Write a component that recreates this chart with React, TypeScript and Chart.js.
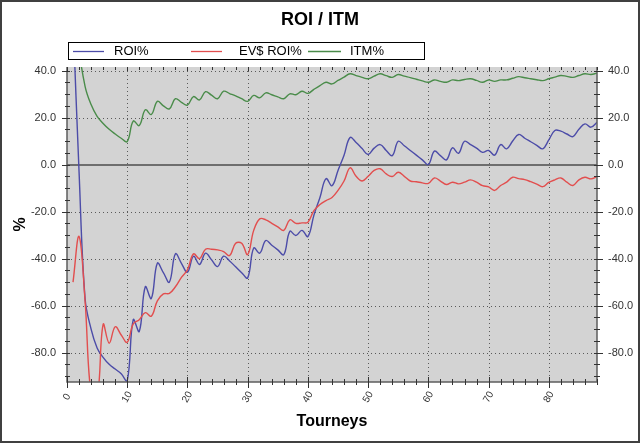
import React, { useEffect, useRef } from 'react';
import { Chart, registerables } from 'chart.js';

Chart.register(...registerables);

const FONT = '"Liberation Sans", Arial, sans-serif';

// Tourney numbers 1..88 (categories on the x axis)
const tourneys: number[] = [
  1, 2, 3, 4, 5, 6, 7, 8, 9, 10, 11, 12, 13, 14, 15, 16, 17, 18, 19, 20,
  21, 22, 23, 24, 25, 26, 27, 28, 29, 30, 31, 32, 33, 34, 35, 36, 37, 38, 39, 40,
  41, 42, 43, 44, 45, 46, 47, 48, 49, 50, 51, 52, 53, 54, 55, 56, 57, 58, 59, 60,
  61, 62, 63, 64, 65, 66, 67, 68, 69, 70, 71, 72, 73, 74, 75, 76, 77, 78, 79, 80,
  81, 82, 83, 84, 85, 86, 87, 88,
];

const roi: number[] = [
  62, -3, -57, -70, -78, -82, -85, -87, -89, -92,
  -66, -71, -52, -57, -42, -46, -50, -38, -42, -45.8,
  -39, -42.5, -37.7, -40.5, -43.4, -39, -41, -43.5, -46, -48.2,
  -35.5, -37.7, -32.3, -34.3, -36.3, -38.3, -28.4, -30.2, -28, -30.6,
  -21.5, -14, -6, -9, -2.5, 4, 11.5, 9.4, 6.8, 4.3,
  7, 8.5, 6, 3.8, 9.9, 8, 6, 4, 2, 0,
  5.7, 3.8, 2, 7.1, 4.8, 9.9, 8.5, 7, 5.2, 6,
  4, 8.5, 6.7, 10, 12.8, 11.2, 9.7, 8.2, 6.7, 10.5,
  14.5, 14.2, 13, 11.9, 15, 17.3, 15.9, 18,
];

const evRoi: number[] = [
  -50, -30.6, -58, -98, -100, -68, -76, -69, -72.5, -75.6,
  -67.8, -66, -63, -64.5, -58, -55, -54.8, -52, -48, -44.8,
  -38, -40, -36, -36, -36.3, -37, -38.7, -33.5, -33.5, -38.3,
  -28, -23.1, -23.5, -25, -26.5, -28, -23.5, -25, -24.8, -24.5,
  -19.6, -17, -15.3, -14, -11, -7, -1.4, -5, -7, -5,
  -2.5, -1.8, -4, -5.1, -3.3, -5, -7, -7.3, -7.8, -8,
  -5.7, -7, -8.5, -7.5, -8.2, -7.5, -6.5, -7.5, -9, -9.5,
  -11, -8.9, -7.5, -5.4, -6, -6.4, -7.3, -8.3, -9.4, -7.6,
  -6.5, -5.7, -7.5, -8.9, -6.5, -5.4, -6.1, -5.1,
];

const itm: number[] = [
  100, 50, 33.3, 25.5, 20.5, 17.5, 15, 13, 11.2, 9.8,
  18.5, 16.6, 23.3, 21.3, 26.9, 25, 23.7, 28, 26.5, 25.3,
  28.9, 27.5, 31, 29.5, 28, 31.2, 30.2, 29.2, 28, 26.9,
  29.4, 28.4, 30.5, 29.7, 28.8, 28, 30.1, 29.7, 31.2, 30.3,
  32, 33.6, 35, 34.3, 35.8, 37.2, 38.6, 37.8, 37.1, 36.5,
  37.6, 38.6, 37.8, 37.1, 38.3, 37.6, 37, 36.3, 35.6, 35,
  36, 35.4, 35, 36, 35.7, 36.2, 36.5, 35.8, 35, 36,
  35.4, 36, 36, 36.7, 37.4, 36.9, 36.5, 36.1, 35.7, 36.5,
  37.2, 37.9, 37.5, 37.1, 37.9, 38.6, 38.3, 38.9,
];

const seriesNames: string[] = ['ROI%', 'EV$ ROI%', 'ITM%'];
const seriesColors: string[] = ['#4c4ca8', '#e24e4e', '#4a8c4a'];

const xMajorTicks: number[] = [0, 10, 20, 30, 40, 50, 60, 70, 80];
const yMajorTicks: number[] = [40, 20, 0, -20, -40, -60, -80];
const X_MIN = 0;
const X_MAX = 88;
const Y_MIN = -92.5;
const Y_MAX = 41.5;

const decorPlugin = {
  id: 'decor',
  beforeDraw(chart: any) {
    const { ctx, chartArea: a, scales } = chart;
    const x = scales.x;
    const y = scales.y;
    ctx.save();
    ctx.fillStyle = '#ffffff';
    ctx.fillRect(0, 0, chart.width, chart.height);
    ctx.fillStyle = '#d3d3d3';
    ctx.fillRect(a.left, a.top, a.right - a.left, a.bottom - a.top);
    // dotted grid
    ctx.strokeStyle = '#5a5a5a';
    ctx.lineWidth = 1;
    ctx.setLineDash([1, 3]);
    for (const v of xMajorTicks) {
      if (v <= X_MIN || v >= X_MAX) continue;
      const px = Math.round(x.getPixelForValue(v)) + 0.5;
      ctx.beginPath();
      ctx.moveTo(px, a.top);
      ctx.lineTo(px, a.bottom);
      ctx.stroke();
    }
    for (const v of yMajorTicks) {
      if (v === 0) continue;
      const py = Math.round(y.getPixelForValue(v)) + 0.5;
      ctx.beginPath();
      ctx.moveTo(a.left, py);
      ctx.lineTo(a.right, py);
      ctx.stroke();
    }
    ctx.setLineDash([]);
    // zero line
    const zy = Math.round(y.getPixelForValue(0));
    ctx.strokeStyle = '#6e6e6e';
    ctx.lineWidth = 2;
    ctx.beginPath();
    ctx.moveTo(a.left, zy);
    ctx.lineTo(a.right, zy);
    ctx.stroke();
    ctx.restore();
  },
  afterDraw(chart: any) {
    const { ctx, chartArea: a, scales } = chart;
    const x = scales.x;
    const y = scales.y;
    ctx.save();
    // axis lines
    ctx.strokeStyle = '#5e5e5e';
    ctx.lineWidth = 1.5;
    ctx.beginPath();
    ctx.moveTo(a.left, a.top);
    ctx.lineTo(a.left, a.bottom);
    ctx.lineTo(a.right, a.bottom);
    ctx.lineTo(a.right, a.top);
    ctx.stroke();
    // ticks
    ctx.strokeStyle = '#333333';
    ctx.lineWidth = 1;
    for (let v = X_MIN; v <= X_MAX; v += 2) {
      const px = Math.round(x.getPixelForValue(v)) + 0.5;
      const major = v % 10 === 0;
      ctx.beginPath();
      ctx.moveTo(px, a.bottom - (major ? 5 : 3));
      ctx.lineTo(px, a.bottom + (major ? 6 : 3));
      ctx.moveTo(px, a.top);
      ctx.lineTo(px, a.top + (major ? 4 : 3));
      ctx.stroke();
    }
    for (let v = 40; v >= -90; v -= 5) {
      const py = Math.round(y.getPixelForValue(v)) + 0.5;
      const major = v % 20 === 0;
      ctx.beginPath();
      ctx.moveTo(a.left - (major ? 5 : 2), py);
      ctx.lineTo(a.left + 3, py);
      ctx.moveTo(a.right - 3, py);
      ctx.lineTo(a.right + (major ? 6 : 3), py);
      ctx.stroke();
    }
    // x tick labels (from the scale's ticks)
    ctx.fillStyle = '#333333';
    ctx.font = `10px ${FONT}`;
    ctx.textAlign = 'center';
    ctx.textBaseline = 'middle';
    for (const t of x.ticks) {
      const px = x.getPixelForValue(t.value);
      ctx.save();
      ctx.translate(px, a.bottom + 15);
      ctx.rotate(-Math.PI / 3);
      ctx.fillText(String(t.value), 0, 0);
      ctx.restore();
    }
    // legend
    const lx = 68.5, ly = 42.5, lw = 356, lh = 17;
    ctx.fillStyle = '#ffffff';
    ctx.fillRect(lx, ly, lw, lh);
    ctx.strokeStyle = '#000000';
    ctx.lineWidth = 1;
    ctx.strokeRect(lx, ly, lw, lh);
    const items = [
      { x0: 73, x1: 104, tx: 114 },
      { x0: 191, x1: 222, tx: 239 },
      { x0: 308, x1: 341, tx: 350 },
    ];
    ctx.font = `13px ${FONT}`;
    ctx.textAlign = 'left';
    ctx.textBaseline = 'middle';
    items.forEach((it, i) => {
      ctx.strokeStyle = seriesColors[i];
      ctx.lineWidth = 1.3;
      ctx.beginPath();
      ctx.moveTo(it.x0, 51.5);
      ctx.lineTo(it.x1, 51.5);
      ctx.stroke();
      ctx.fillStyle = '#000000';
      ctx.fillText(seriesNames[i], it.tx, 51.5);
    });
    // outer frame
    ctx.strokeStyle = '#404040';
    ctx.lineWidth = 2;
    ctx.strokeRect(1, 1, chart.width - 2, chart.height - 2);
    ctx.restore();
  },
};

export default function App() {
  const ref = useRef<HTMLCanvasElement | null>(null);
  useEffect(() => {
    document.body.style.margin = '0';
    const canvas = ref.current;
    if (!canvas) return;
    const makeData = (vals: number[]) => vals.map((v, i) => ({ x: tourneys[i], y: v }));
    const yTickOpts = {
      stepSize: 20,
      includeBounds: false,
      padding: 11,
      color: '#333333',
      font: { size: 11, family: FONT },
      callback: (v: any) => Number(v).toFixed(1),
    };
    const chart = new Chart(canvas, {
      type: 'line',
      data: {
        datasets: [
          { label: seriesNames[1], data: makeData(evRoi), borderColor: seriesColors[1] },
          { label: seriesNames[2], data: makeData(itm), borderColor: seriesColors[2] },
          { label: seriesNames[0], data: makeData(roi), borderColor: seriesColors[0] },
        ].map((d) => ({
          ...d,
          borderWidth: 1.4,
          pointRadius: 0,
          tension: 0.4,
          capBezierPoints: false,
          fill: false,
        })) as any,
      },
      options: {
        animation: false,
        responsive: false,
        maintainAspectRatio: false,
        devicePixelRatio: 1,
        layout: { padding: 0 },
        plugins: {
          legend: { display: false },
          tooltip: { enabled: false },
          title: {
            display: true,
            text: 'ROI / ITM',
            color: '#000000',
            font: { size: 18, weight: 'bold', family: FONT },
            padding: { top: 9, bottom: 36.4 },
          },
        },
        scales: {
          x: {
            type: 'linear',
            min: X_MIN,
            max: X_MAX,
            ticks: { display: false, stepSize: 10, includeBounds: false },
            grid: { display: false, drawTicks: false },
            border: { display: false },
            title: {
              display: true,
              text: 'Tourneys',
              color: '#000000',
              font: { size: 16, weight: 'bold', family: FONT },
              padding: { top: 0, bottom: 12 },
            },
            afterFit: (s: any) => { s.height = 61; },
          },
          y: {
            position: 'left',
            min: Y_MIN,
            max: Y_MAX,
            ticks: yTickOpts,
            grid: { display: false, drawTicks: false },
            border: { display: false },
            title: {
              display: true,
              text: '%',
              color: '#000000',
              font: { size: 16, weight: 'bold', family: FONT },
              padding: { top: 11, bottom: 0 },
            },
            afterFit: (s: any) => { s.width = 67; },
          },
          y2: {
            position: 'right',
            min: Y_MIN,
            max: Y_MAX,
            ticks: yTickOpts,
            grid: { display: false, drawTicks: false },
            border: { display: false },
            afterFit: (s: any) => { s.width = 43; },
          },
        },
      } as any,
      plugins: [decorPlugin],
    });
    return () => chart.destroy();
  }, []);
  return <canvas ref={ref} width={640} height={443} style={{ display: 'block' }} />;
}
